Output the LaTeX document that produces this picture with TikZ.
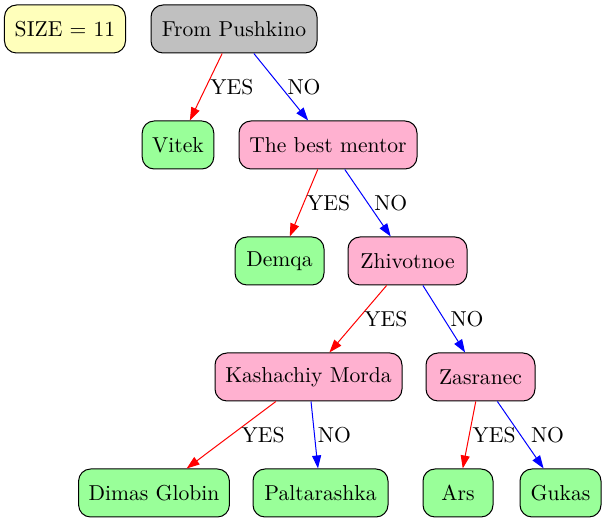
\documentclass[tikz,border=0pt]{standalone}
\usetikzlibrary{arrows.meta}
\definecolor{sizeyellow}{HTML}{FFFFBB}
\definecolor{rootgray}{HTML}{C0C0C0}
\definecolor{askpink}{HTML}{FFB1D0}
\definecolor{leafgreen}{HTML}{99FF99}
\begin{document}
\begin{tikzpicture}[x=0.5pt,y=-0.5pt,line width=0.5pt,>={Triangle[length=6.5pt,width=4.5pt]},
font=\fontsize{10.8pt}{13pt}\selectfont,
box/.style={draw=black,rounded corners=6pt,minimum height=24pt,inner xsep=5pt},
yes/.style={->,color=red},no/.style={->,color=blue},
lab/.style={right,text=black,inner sep=3pt}]
\useasboundingbox (0,0) rectangle (607,523);
% nodes of the tree
\node[box,fill=sizeyellow,minimum width=60.5pt] (size) at (65,29) {SIZE = 11};
\node[box,fill=rootgray,minimum width=83pt] (push) at (234,29) {From Pushkino};
\node[box,fill=leafgreen,minimum width=35pt] (vitek) at (178,145) {Vitek};
\node[box,fill=askpink,minimum width=89pt] (mentor) at (328,145) {The best mentor};
\node[box,fill=leafgreen,minimum width=44.5pt] (demqa) at (279.5,261) {Demqa};
\node[box,fill=askpink,minimum width=59.5pt] (zhiv) at (407.5,261) {Zhivotnoe};
\node[box,fill=askpink,minimum width=93.5pt] (kash) at (308.5,377) {Kashachiy Morda};
\node[box,fill=askpink,minimum width=54.5pt] (zasr) at (480.5,377) {Zasranec};
\node[box,fill=leafgreen,minimum width=75pt] (dimas) at (154,493) {Dimas Globin};
\node[box,fill=leafgreen,minimum width=67.5pt] (palt) at (320.5,493) {Paltarashka};
\node[box,fill=leafgreen,minimum width=35pt] (ars) at (458,493) {Ars};
\node[box,fill=leafgreen,minimum width=40.5pt] (gukas) at (560.5,493) {Gukas};
% edges
\draw[yes] (push) -- (vitek) node[lab,midway,inner sep=2pt]{YES};
\draw[no] (push) -- (mentor) node[lab,midway]{NO};
\draw[yes] (mentor) -- (demqa) node[lab,midway,inner sep=1.5pt]{YES};
\draw[no] (mentor) -- (zhiv) node[lab,midway]{NO};
\draw[yes] (zhiv) -- (kash) node[lab,midway]{YES};
\draw[no] (zhiv) -- (zasr) node[lab,midway]{NO};
\draw[yes] (kash) -- (dimas) node[lab,midway,xshift=2pt]{YES};
\draw[no] (kash) -- (palt) node[lab,midway,inner sep=1.5pt]{NO};
\draw[yes] (zasr) -- (ars) node[lab,midway,inner sep=1.5pt]{YES};
\draw[no] (zasr) -- (gukas) node[lab,midway,xshift=2pt]{NO};
\end{tikzpicture}
\end{document}
